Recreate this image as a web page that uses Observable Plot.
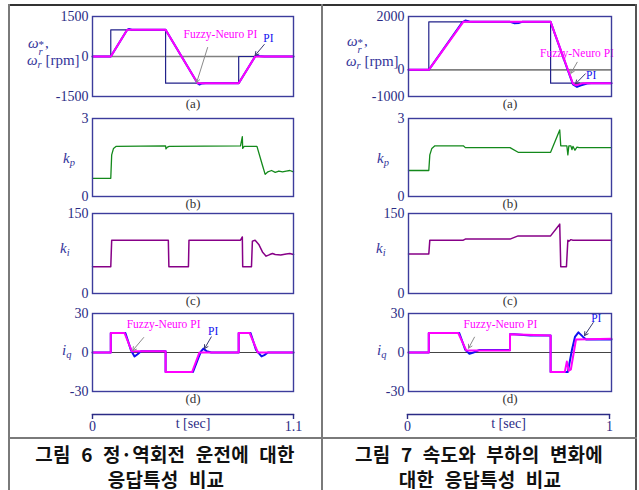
<!DOCTYPE html>
<html><head><meta charset="utf-8">
<script src="https://cdn.jsdelivr.net/npm/d3@7"></script>
<script src="https://cdn.jsdelivr.net/npm/@observablehq/plot@0.6"></script>
<style>
body{margin:0;background:#fff;}
#root{position:relative;width:639px;height:490px;overflow:hidden;background:#fff;}
.lab{position:absolute;font-family:"Liberation Serif",serif;font-style:italic;color:#34349a;font-size:15px;white-space:nowrap;line-height:1;transform:translateY(-50%);}
.lab .n{font-style:normal;}
.sub{font-size:10.5px;position:relative;top:3px;}
.ss{display:inline-block;vertical-align:-7px;font-size:10.5px;line-height:8px;margin-right:1px;}
.ss b{display:block;font-weight:normal;font-style:normal;font-size:11px;height:8px;}
.ss i{display:block;height:9px;}
.cap{position:absolute;font-family:"Noto Sans CJK KR",sans-serif;font-weight:bold;font-size:19px;color:#111;white-space:nowrap;transform:translate(-50%,-50%);line-height:1;word-spacing:6px;letter-spacing:0.2px;}
.ln{position:absolute;background:#7a7a7a;}
</style></head><body><div id="root"></div>
<script>
// ---------- DATA (time [s], value) ----------
// Fig 6 (left column), t = 0 .. 1.1
const L_refSpeed = [[0,0],[0.1,0],[0.1,1000],[0.4,1000],[0.4,-1000],[0.8,-1000],[0.8,0],[1.1,0]];
const L_fnSpeed  = [[0,0],[0.1,0],[0.19,1000],[0.4,1000],[0.575,-1000],[0.8,-1000],[0.89,0],[1.1,0]];
const L_piSpeed  = [[0,0],[0.1,0],[0.19,1000],[0.2,1035],[0.215,1005],[0.23,1000],[0.4,1000],[0.575,-1000],[0.585,-1050],[0.6,-1010],[0.62,-1000],[0.8,-1000],[0.89,0],[0.9,40],[0.92,5],[0.94,0],[1.1,0]];
const L_kp = [[0,0.7],[0.1,0.7],[0.105,1.6],[0.115,1.85],[0.13,1.93],[0.4,1.95],[0.402,1.83],[0.41,1.9],[0.42,1.93],[0.81,1.95],[0.82,2.3],[0.822,1.85],[0.83,1.93],[0.9,1.93],[0.93,1.2],[0.945,0.85],[0.96,0.95],[0.98,1.0],[1.0,0.93],[1.02,0.98],[1.04,0.95],[1.06,0.98],[1.08,1.0],[1.1,0.95]];
const L_ki = [[0,50],[0.1,50],[0.105,100],[0.415,100],[0.418,50],[0.525,50],[0.528,100],[0.81,100],[0.82,106],[0.822,50],[0.87,50],[0.875,98],[0.89,100],[0.91,92],[0.93,78],[0.95,70],[0.97,73],[0.985,75],[1.0,73],[1.03,72],[1.06,74],[1.08,75],[1.1,73]];
const L_fnIq = [[0,0],[0.1,0],[0.1,15],[0.175,15],[0.215,1],[0.4,1],[0.4,-15],[0.545,-15],[0.585,0],[0.8,0],[0.8,15],[0.86,15],[0.905,0],[1.1,0]];
const L_piIq = [[0,0],[0.1,0],[0.1,15],[0.18,15],[0.21,2],[0.23,-3],[0.245,-1.5],[0.265,1],[0.4,1],[0.4,-15],[0.55,-15],[0.58,-4],[0.595,1],[0.607,3],[0.625,1],[0.65,0],[0.8,0],[0.8,15],[0.865,15],[0.895,2],[0.925,-3],[0.94,-2],[0.96,0],[1.1,0]];

// Fig 7 (right column), t = 0 .. 1
const R_refSpeed = [[0,0],[0.1,0],[0.1,1800],[0.7,1800],[0.7,-500],[1,-500]];
const R_fnSpeed  = [[0,0],[0.1,0],[0.27,1800],[0.7,1800],[0.81,-520],[0.825,-580],[0.86,-500],[1,-500]];
const R_piSpeed  = [[0,0],[0.1,0],[0.265,1780],[0.28,1850],[0.3,1810],[0.32,1800],[0.5,1800],[0.52,1750],[0.545,1760],[0.56,1800],[0.7,1800],[0.81,-550],[0.83,-640],[0.85,-580],[0.88,-510],[0.9,-500],[1,-500]];
const R_kp = [[0,1.0],[0.1,1.0],[0.105,1.6],[0.115,1.85],[0.13,1.95],[0.27,1.95],[0.28,1.88],[0.5,1.88],[0.54,1.7],[0.7,1.7],[0.745,2.56],[0.75,1.95],[0.78,1.95],[0.785,1.6],[0.79,1.95],[0.8,1.95],[0.805,1.8],[0.81,1.93],[0.82,1.78],[0.83,1.9],[0.84,1.88],[1,1.88]];
const R_ki = [[0,74],[0.1,74],[0.105,100],[0.27,100],[0.28,102],[0.5,102],[0.54,108],[0.7,108],[0.745,130],[0.75,50],[0.778,50],[0.785,100],[0.79,98],[0.8,101],[0.81,100],[1,100]];
const R_fnIq = [[0,0],[0.1,0],[0.1,15],[0.245,15],[0.285,1.5],[0.5,1.5],[0.5,14],[0.7,13],[0.7,-15],[0.77,-15],[0.78,-7],[0.79,-14],[0.8,-13],[0.825,10],[1,10.5]];
const R_piIq = [[0,0],[0.1,0],[0.1,15],[0.25,15],[0.28,2],[0.3,-1],[0.32,0],[0.35,2],[0.5,2],[0.5,14],[0.52,14],[0.6,13],[0.7,13],[0.7,-15],[0.785,-15],[0.805,2],[0.82,12],[0.837,15.5],[0.86,12],[0.875,10],[1,10]];

// Axis ticks
const L_speedTicks = [-1500,0,1500], R_speedTicks = [-1000,0,2000];
const kpTicks = [0,3], kiTicks = [0,150], iqTicks = [-30,0,30];
const L_timeTicks = [0,1.1], R_timeTicks = [0,1];

// Annotations: text position (t, v) and arrow from -> to
const L_annoA = [{text:"Fuzzy-Neuro PI", t:0.70, v:825, c:"fn", a:[0.63,338,0.57,-975]},{text:"PI", t:0.963, v:675, c:"pi", a:[0.94,450,0.89,40]}];
const L_annoD = [{text:"Fuzzy-Neuro PI", t:0.389, v:21.5, c:"fn", a:[0.28,11.5,0.22,1.5]},{text:"PI", t:0.66, v:16, c:"pi", a:[0.65,12,0.613,3]}];
const R_annoA = [{text:"Fuzzy-Neuro PI", t:0.83, v:610, c:"fn", a:[0.831,285,0.80,-127]},{text:"PI", t:0.9, v:-214, c:"pi", a:[0.871,-150,0.823,-525]}];
const R_annoD = [{text:"Fuzzy-Neuro PI", t:0.453, v:21.5, c:"fn", a:[0.325,11.8,0.296,3.3]},{text:"PI", t:0.925, v:26, c:"pi", a:[0.91,23,0.867,13]}];

// ---------- drawing ----------
const root = document.getElementById("root");
const C = {fn:"#ff00ff", pi:"#1010f0", ref:"#22228a", kp:"#13891b", ki:"#870087", axis:"#2b2b85", frame:"#3c3c9c"};
const X = d => d[0], Y = d => d[1];

function place(el, left, top) {
  el.style.position = "absolute"; el.style.left = left + "px"; el.style.top = top + "px";
  root.appendChild(el);
}

function panel({x0, x1, y0, y1, tmax, ydom, yticks, lines, zero, letter, annos}) {
  const mL = 50, mR = 3, mT = 7, mB = 20;
  const marks = [];
  if (zero) marks.push(Plot.ruleY([0], zero));
  for (const [data, stroke, sw] of lines) marks.push(Plot.line(data, {x: X, y: Y, stroke, strokeWidth: sw, strokeLinejoin: "round"}));
  if (annos) {
    marks.push(Plot.arrow(annos, {x1: d => d.a[0], y1: d => d.a[1], x2: d => d.a[2], y2: d => d.a[3], stroke: d => d.c === "fn" ? "#8a8a8a" : "#3a3a70", headLength: 6, strokeWidth: 1}));
    marks.push(Plot.text(annos, {x: "t", y: "v", text: "text", fill: d => C[d.c], fontSize: 11.5, fontFamily: "Liberation Serif"}));
  }
  marks.push(Plot.frame({stroke: C.frame, strokeWidth: 1.4}));
  marks.push(Plot.axisY({ticks: yticks, tickSize: 0, tickPadding: 4, tickFormat: d => String(d), label: null, fontSize: 14}));
  marks.push(Plot.text([letter], {frameAnchor: "bottom", dy: 11, fontSize: 13, fill: "#333", fontFamily: "Liberation Serif"}));
  const p = Plot.plot({
    width: (x1 - x0) + mL + mR, height: (y1 - y0) + mT + mB,
    marginLeft: mL, marginRight: mR, marginTop: mT, marginBottom: mB,
    x: {domain: [0, tmax], axis: null},
    y: {domain: ydom, axis: null},
    style: {fontFamily: "Liberation Serif", fontSize: "14px", color: C.axis, background: "transparent", overflow: "visible"},
    marks
  });
  place(p, x0 - mL, y0 - mT);
}

function timeAxis({x0, x1, y, tmax, ticks}) {
  const m = 15;
  const p = Plot.plot({
    width: (x1 - x0) + 2 * m, height: 30, marginLeft: m, marginRight: m, marginTop: 0, marginBottom: 26,
    x: {domain: [0, tmax]},
    style: {fontFamily: "Liberation Serif", fontSize: "14px", color: C.axis, background: "transparent", overflow: "visible"},
    marks: [
      Plot.frame({anchor: "bottom", stroke: C.axis, strokeWidth: 1.4}),
      Plot.axisX({ticks, tickSize: 5, tickPadding: 2, tickFormat: d => String(d), label: null, strokeWidth: 1.4}),
      Plot.text(["t [sec]"], {frameAnchor: "bottom", dy: 13, fontSize: 14, fill: C.axis})
    ]
  });
  place(p, x0 - m, y - 4);
}

const colL = {x0: 92, x1: 293, tmax: 1.1};
const colR = {x0: 408, x1: 611, tmax: 1};
const rows = {a: [16, 96], b: [118, 196], c: [213, 293], d: [313, 391]};

// Left column
panel({...colL, y0: rows.a[0], y1: rows.a[1], ydom: [-1500, 1500], yticks: L_speedTicks, zero: {stroke: "#808080", strokeWidth: 1.6},
  lines: [[L_refSpeed, C.ref, 1.2], [L_piSpeed, C.pi, 2], [L_fnSpeed, C.fn, 2]], letter: "(a)", annos: L_annoA});
panel({...colL, y0: rows.b[0], y1: rows.b[1], ydom: [0, 3], yticks: kpTicks, lines: [[L_kp, C.kp, 1.3]], letter: "(b)"});
panel({...colL, y0: rows.c[0], y1: rows.c[1], ydom: [0, 150], yticks: kiTicks, lines: [[L_ki, C.ki, 1.5]], letter: "(c)"});
panel({...colL, y0: rows.d[0], y1: rows.d[1], ydom: [-30, 30], yticks: iqTicks, zero: {stroke: "#444", strokeWidth: 1},
  lines: [[L_piIq, C.pi, 2], [L_fnIq, C.fn, 2]], letter: "(d)", annos: L_annoD});
timeAxis({x0: 92, x1: 293, y: 414, tmax: 1.1, ticks: L_timeTicks});

// Right column
panel({...colR, y0: rows.a[0], y1: rows.a[1], ydom: [-1000, 2000], yticks: R_speedTicks, zero: {stroke: "#808080", strokeWidth: 1.6},
  lines: [[R_refSpeed, C.ref, 1.2], [R_piSpeed, C.pi, 2], [R_fnSpeed, C.fn, 2]], letter: "(a)", annos: R_annoA});
panel({...colR, y0: rows.b[0], y1: rows.b[1], ydom: [0, 3], yticks: kpTicks, lines: [[R_kp, C.kp, 1.3]], letter: "(b)"});
panel({...colR, y0: rows.c[0], y1: rows.c[1], ydom: [0, 150], yticks: kiTicks, lines: [[R_ki, C.ki, 1.5]], letter: "(c)"});
panel({...colR, y0: rows.d[0], y1: rows.d[1], ydom: [-30, 30], yticks: iqTicks, zero: {stroke: "#444", strokeWidth: 1},
  lines: [[R_piIq, C.pi, 2], [R_fnIq, C.fn, 2]], letter: "(d)", annos: R_annoD});
timeAxis({x0: 407, x1: 609, y: 414, tmax: 1, ticks: R_timeTicks});

// Axis labels (HTML text)
function label(html, left, cy) {
  const s = document.createElement("span"); s.className = "lab"; s.innerHTML = html;
  s.style.left = left + "px"; s.style.top = cy + "px"; root.appendChild(s);
}
const wStar = 'ω<span class="ss"><b>*</b><i>r</i></span><span class="n">,</span>';
const wR = 'ω<span class="sub">r</span> <span class="n">[rpm]</span>';
label(wStar, 28, 46); label(wR, 27, 60);
label(wStar, 347, 44); label(wR, 346, 61);
for (const [lx, h] of [[63, 158], [377, 158]]) label('k<span class="sub">p</span>', lx, h);
for (const [lx, h] of [[60, 248], [376, 248]]) label('k<span class="sub">i</span>', lx, h);
for (const [lx, h] of [[62, 350], [377, 350]]) label('i<span class="sub">q</span>', lx, h);

// Table lines
function line(l, t, w, h, col) { const d = document.createElement("div"); d.className = "ln"; Object.assign(d.style, {left: l + "px", top: t + "px", width: w + "px", height: h + "px"}); if (col) d.style.background = col; root.appendChild(d); }
line(8, 4, 629, 2, "#333");
line(8, 4, 2, 490);
line(321, 4, 2, 490);
line(635, 4, 2, 490, "#555");
line(8, 437, 629, 2);

// Captions
const captions = [["그림 6 정·역회전 운전에 대한", 165, 453], ["응답특성 비교", 166, 478], ["그림 7 속도와 부하의 변화에", 479, 453], ["대한 응답특성 비교", 480, 478]];
for (const [t, cx, cy] of captions) { const s = document.createElement("span"); s.className = "cap"; s.textContent = t; s.style.left = cx + "px"; s.style.top = cy + "px"; root.appendChild(s); }
</script></body></html>
